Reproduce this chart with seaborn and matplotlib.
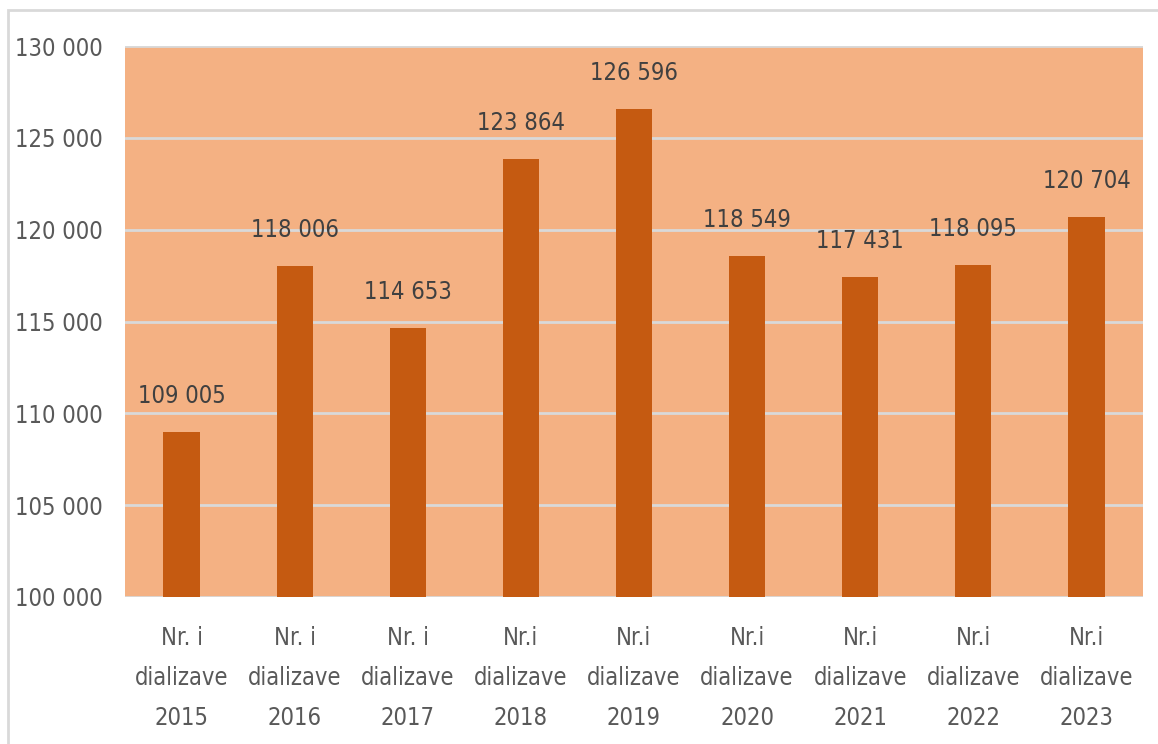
import matplotlib
matplotlib.use("Agg")
import matplotlib.pyplot as plt
import seaborn as sns
import pandas as pd
from matplotlib.patches import Rectangle

# ---- Data
years = ["2015", "2016", "2017", "2018", "2019", "2020", "2021", "2022", "2023"]
labels = ["Nr. i\ndializave\n2015", "Nr. i\ndializave\n2016", "Nr. i\ndializave\n2017",
          "Nr.i\ndializave\n2018", "Nr.i\ndializave\n2019", "Nr.i\ndializave\n2020",
          "Nr.i\ndializave\n2021", "Nr.i\ndializave\n2022", "Nr.i\ndializave\n2023"]
values = [109005, 118006, 114653, 123864, 126596, 118549, 117431, 118095, 120704]
yticks = [100000, 105000, 110000, 115000, 120000, 125000, 130000]

BAR_COLOR = "#C55A11"
BG_COLOR = "#F4B183"
GRID_COLOR = "#D9D9D9"

sns.set_style("white")
plt.rcParams["font.family"] = ["DejaVu Sans"]
plt.rcParams["font.stretch"] = "condensed"

df = pd.DataFrame({"label": labels, "value": values})

fig = plt.figure(figsize=(11.58, 7.44), dpi=100)
ax = fig.add_axes([125 / 1158, 147 / 744, 1018 / 1158, 551 / 744])

# outer chart border
fig.patches.append(Rectangle((8 / 1158, -0.05), 1.2, 0.05 + 734 / 744,
                             transform=fig.transFigure, fill=False,
                             edgecolor=GRID_COLOR, lw=2))

ax.set_facecolor(BG_COLOR)
sns.barplot(data=df, x="label", y="value", color=BAR_COLOR, width=0.32,
            saturation=1, linewidth=0, ax=ax, zorder=3)

ax.set_ylim(100000, 130000)
ax.set_yticks(yticks)
ax.set_yticklabels([f"{v:,}".replace(",", " ") for v in yticks])
ax.yaxis.grid(True, color=GRID_COLOR, lw=2)
ax.set_axisbelow(True)
for s in ax.spines.values():
    s.set_visible(False)

ax.tick_params(axis="y", length=0, labelsize=17, labelcolor="#595959", pad=16)
ax.tick_params(axis="x", length=0, labelsize=17, labelcolor="#595959", pad=21)
for t in ax.get_xticklabels():
    t.set_linespacing(1.85)
ax.set_xlabel("")
ax.set_ylabel("")

for i, v in enumerate(values):
    ax.text(i, v + 1300, f"{v:,}".replace(",", " "), ha="center", va="bottom",
            fontsize=17, color="#404040", zorder=4)

fig.savefig("out.png", dpi=100)
